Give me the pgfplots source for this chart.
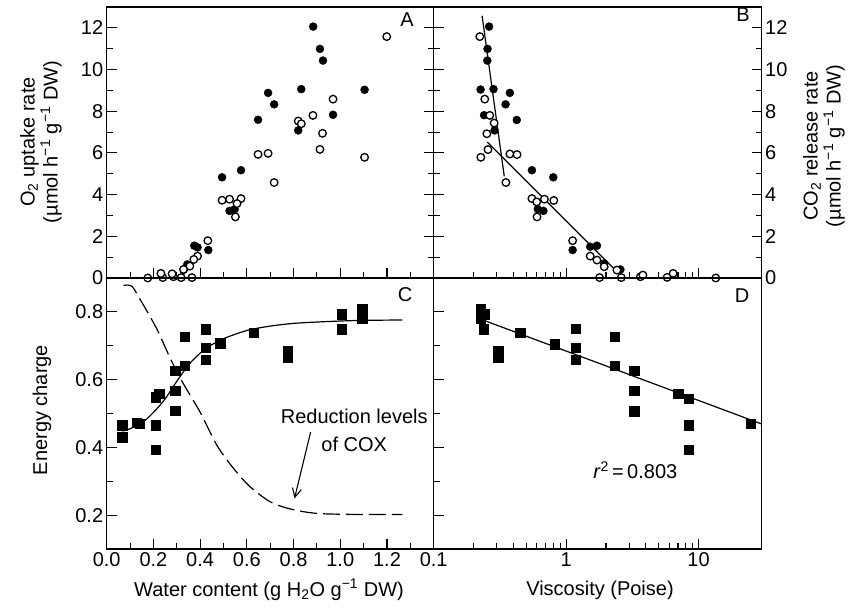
\documentclass[border=0pt]{standalone}
\usepackage{fontspec}
\setmainfont{Liberation Sans}
\usepackage{pgfplots}
\pgfplotsset{compat=1.18}
\usetikzlibrary{arrows.meta}

\pgfplotsset{
  panel/.style={
    scale only axis, width=327pt, height=271pt, anchor=south west,
    axis line style={line width=1.4pt},
    every tick/.style={line width=1.1pt, black},
    major tick length=10pt, minor tick length=6pt,
    tick align=inside,
    font=\fontsize{20}{23}\selectfont,
    ticklabel style={font=\fontsize{20}{23}\selectfont},
    /pgf/number format/assume math mode=true,
    clip=false,
  },
  fillc/.style={only marks, mark=*, mark size=4pt, mark options={draw=black, fill=black}},
  openc/.style={only marks, mark=*, mark size=3.8pt, mark options={draw=black, fill=white, line width=1.3pt}},
  sq/.style={only marks, mark=square*, mark size=4.7pt, mark options={draw=black, fill=black}},
  fit/.style={black, line width=1.2pt, no marks},
}

\begin{document}
\begin{tikzpicture}
\useasboundingbox (0,0) rectangle (860pt,616pt);

% A: O2 uptake vs water content
\begin{axis}[panel, at={(106.7pt,338pt)},
  xmin=0, xmax=1.4, ymin=0, ymax=13,
  xtick={0,0.2,0.4,0.6,0.8,1.0,1.2}, minor xtick={0.1,0.3,0.5,0.7,0.9,1.1,1.3},
  xticklabels={}, xtick pos=left,
  ytick={0,2,4,6,8,10,12}, minor ytick={1,3,5,7,9,11},
]
\addplot[fillc] coordinates {
 (0.884,12.06) (0.913,10.99) (0.926,10.43) (0.833,9.06) (0.691,8.88) (0.717,8.33)
 (0.648,7.59) (1.104,9.03) (0.969,7.83) (0.820,7.08) (0.575,5.17) (0.494,4.83)
 (0.526,3.22) (0.548,3.30) (0.375,1.55) (0.389,1.47) (0.435,1.34) (0.33,0.40) (0.345,0.65)};
\addplot[openc] coordinates {
 (1.199,11.58) (0.969,8.58) (0.883,7.80) (0.820,7.53) (0.833,7.40) (0.924,6.94)
 (0.913,6.17) (1.104,5.79) (0.648,5.93) (0.691,5.98) (0.717,4.58) (0.494,3.73)
 (0.526,3.78) (0.575,3.81) (0.558,3.57) (0.551,2.93) (0.433,1.79) (0.389,1.05)
 (0.373,0.89) (0.356,0.57) (0.329,0.41) (0.365,0.02) (0.319,0.02) (0.286,0.06)
 (0.240,0.02) (0.232,0.22) (0.176,0.0) (0.28,0.20)};
\end{axis}

% B: CO2 release vs viscosity
\begin{axis}[panel, at={(433.7pt,338pt)}, width=328pt,
  xmode=log, xmin=0.1, xmax=30, ymin=0, ymax=13,
  xtick={0.1,1,10}, xticklabels={}, xtick pos=left,
  ytick={0,2,4,6,8,10,12}, minor ytick={1,3,5,7,9,11},
  yticklabel pos=right,
]
\addplot[fit] coordinates {(0.232,12.58) (0.341,4.88)};
\addplot[fit] coordinates {(0.254,6.52) (2.57,0.14)};
\addplot[fillc] coordinates {
 (0.262,12.06) (0.255,10.99) (0.254,10.43) (0.226,9.04) (0.283,9.06) (0.376,8.88)
 (0.349,8.33) (0.424,7.58) (0.240,7.81) (0.288,7.08) (0.552,5.17) (0.80,4.83)
 (0.611,3.30) (0.673,3.22) (1.12,1.34) (1.52,1.50) (1.71,1.55) (1.94,0.70) (2.57,0.41)};
\addplot[openc] coordinates {
 (0.223,11.58) (0.243,8.58) (0.265,7.80) (0.286,7.43) (0.252,6.92) (0.257,6.16)
 (0.227,5.79) (0.376,5.95) (0.426,5.92) (0.351,4.58) (0.552,3.81) (0.600,3.65)
 (0.686,3.78) (0.807,3.72) (0.603,2.93) (1.12,1.79) (1.52,1.05) (1.71,0.86)
 (1.94,0.54) (2.42,0.38) (1.79,0.02) (2.61,0.02) (3.64,0.06) (3.8,0.14)
 (5.79,0.03) (6.43,0.22) (13.5,0.0)};
\end{axis}

% C: energy charge vs water content
\begin{axis}[panel, at={(106.7pt,67pt)},
  xmin=0, xmax=1.4, ymin=0.1, ymax=0.9,
  xtick={0,0.2,0.4,0.6,0.8,1.0,1.2}, minor xtick={0.1,0.3,0.5,0.7,0.9,1.1,1.3},
  xticklabels={0.0,0.2,0.4,0.6,0.8,1.0,1.2}, xtick pos=left,
  ytick={0.2,0.4,0.6,0.8}, minor ytick={0.3,0.5,0.7},
  yticklabels={0.2,0.4,0.6,0.8}, ytick pos=left,
]
\addplot[fit, smooth] coordinates {
 (0.067,0.448) (0.10,0.455) (0.15,0.472) (0.20,0.503) (0.25,0.543) (0.30,0.595)
 (0.35,0.643) (0.40,0.678) (0.45,0.703) (0.50,0.721) (0.60,0.745) (0.70,0.758)
 (0.80,0.766) (0.90,0.770) (1.00,0.773) (1.10,0.775) (1.266,0.776)};
\addplot[fit, smooth, dash pattern=on 17pt off 6pt] coordinates {
 (0.072,0.878) (0.107,0.876) (0.143,0.837) (0.215,0.749) (0.272,0.663) (0.329,0.587)
 (0.40,0.504) (0.472,0.406) (0.544,0.337) (0.615,0.283) (0.701,0.239) (0.787,0.218)
 (0.901,0.205) (1.073,0.202) (1.266,0.202)};
\addplot[sq] coordinates {
 (0.067,0.465) (0.067,0.430) (0.129,0.473) (0.140,0.470) (0.210,0.465) (0.210,0.393)
 (0.210,0.548) (0.225,0.558) (0.293,0.627) (0.293,0.568) (0.293,0.509) (0.333,0.641)
 (0.333,0.726) (0.425,0.749) (0.425,0.695) (0.425,0.658) (0.486,0.708) (0.629,0.739)
 (0.775,0.685) (0.775,0.666) (1.006,0.793) (1.006,0.749) (1.094,0.810) (1.094,0.780)};
\draw[line width=1.1pt, -{Straight Barb[length=9pt,width=9pt,line width=1.1pt]}]
  (axis cs:0.873,0.445) -- (axis cs:0.804,0.249);
\node[align=center, font=\fontsize{20}{28}\selectfont] at (axis cs:1.06,0.449)
  {Reduction levels\\of COX};
\end{axis}

% D: energy charge vs viscosity
\begin{axis}[panel, at={(433.7pt,67pt)}, width=328pt,
  xmode=log, xmin=0.1, xmax=30, ymin=0.1, ymax=0.9,
  xtick={0.1,1,10}, xticklabels={0.1,1,10}, xtick pos=left,
  ytick={0.2,0.4,0.6,0.8}, minor ytick={0.3,0.5,0.7},
  yticklabels={}, ytick pos=left,
]
\addplot[fit] coordinates {(0.243,0.774) (30,0.469)};
\addplot[sq] coordinates {
 (0.226,0.810) (0.226,0.780) (0.244,0.793) (0.239,0.749) (0.307,0.685) (0.307,0.666)
 (0.449,0.739) (0.817,0.705) (1.18,0.751) (1.18,0.695) (1.18,0.658) (2.32,0.727)
 (2.32,0.641) (3.27,0.627) (3.27,0.568) (3.27,0.507) (7.0,0.558) (8.45,0.543)
 (8.45,0.465) (8.45,0.393) (24.8,0.470)};
\node[font=\fontsize{20}{23}\selectfont] at (axis cs:3.33,0.332)
  {\textit{r}\textsuperscript{2}\,=\,0.803};
\end{axis}

\begin{scope}[font=\fontsize{20}{23}\selectfont]
\node at (407pt,596pt) {A};
\node at (743pt,601pt) {B};
\node at (405pt,321pt) {C};
\node at (742pt,320pt) {D};
\node[rotate=90, align=center] at (41pt,474pt)
  {O\textsubscript{2} uptake rate\\(µmol h\textsuperscript{−1} g\textsuperscript{−1} DW)};
\node[rotate=90] at (42pt,206pt) {Energy charge};
\node[rotate=90, align=center] at (824pt,470pt)
  {CO\textsubscript{2} release rate\\(µmol h\textsuperscript{−1} g\textsuperscript{−1} DW)};
\node at (269pt,26pt) {Water content (g H\textsubscript{2}O g\textsuperscript{−1} DW)};
\node at (600pt,26pt) {Viscosity (Poise)};
\end{scope}
\end{tikzpicture}
\end{document}
